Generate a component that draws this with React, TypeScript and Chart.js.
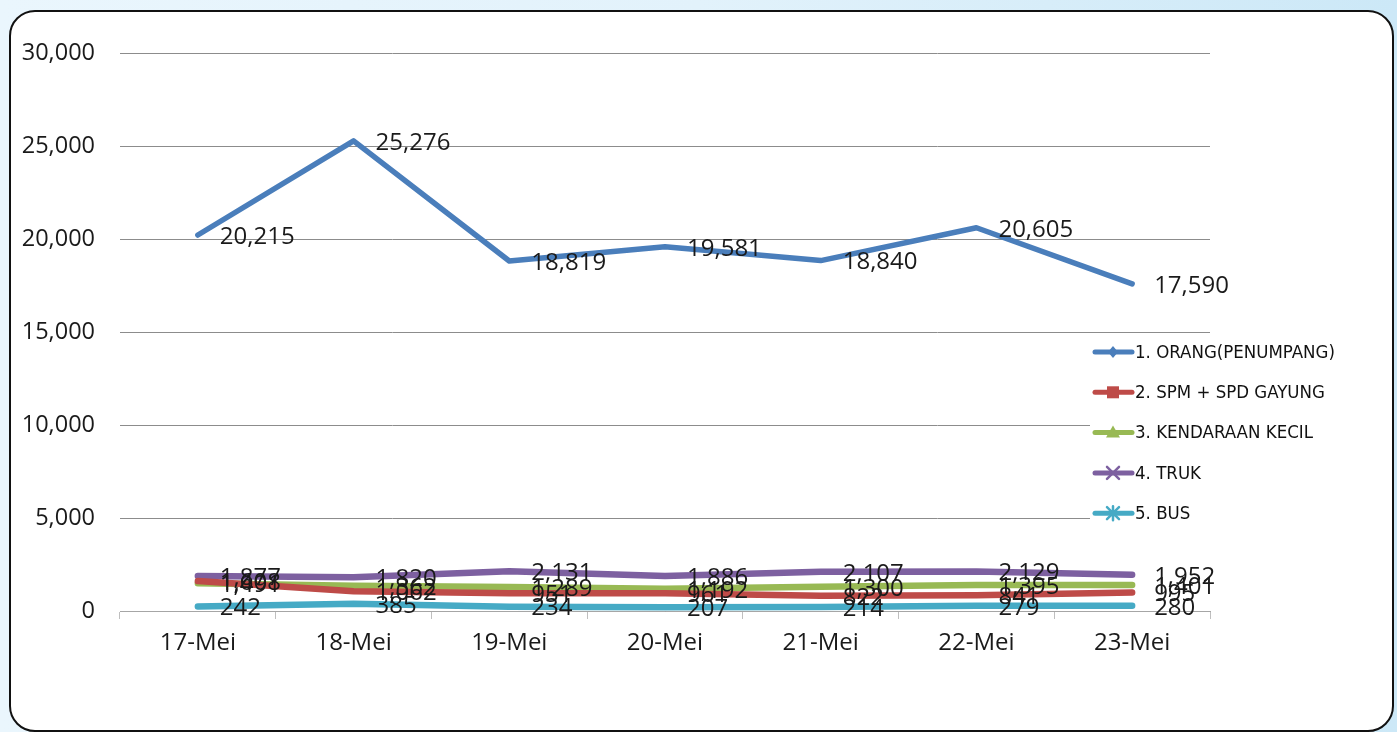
import React, { useEffect, useRef } from "react";
import { Chart, registerables } from "chart.js";

Chart.register(...registerables);

const categories = ["17-Mei", "18-Mei", "19-Mei", "20-Mei", "21-Mei", "22-Mei", "23-Mei"];
const seriesNames = [
  "1. ORANG(PENUMPANG)",
  "2. SPM + SPD GAYUNG",
  "3. KENDARAAN KECIL",
  "4. TRUK",
  "5. BUS",
];
const orang = [20215, 25276, 18819, 19581, 18840, 20605, 17590];
const spm = [1608, 1062, 951, 961, 822, 841, 995];
const kendaraan = [1491, 1362, 1289, 1192, 1300, 1395, 1401];
const truk = [1877, 1820, 2131, 1886, 2107, 2129, 1952];
const bus = [242, 385, 234, 207, 214, 279, 280];
const yTickValues = [0, 5000, 10000, 15000, 20000, 25000, 30000];

const seriesValues = [orang, spm, kendaraan, truk, bus];
const colors = ["#4a7ebb", "#be4b48", "#98b954", "#7d60a0", "#46aac5"];
const markerKinds = ["diamond", "square", "triangle", "cross", "star"];

const fmt = (v: number) => v.toLocaleString("en-US");
const FONT = "'Open Sans', 'Noto Sans', sans-serif";

function drawMarker(ctx: CanvasRenderingContext2D, kind: string, cx: number, cy: number, color: string) {
  ctx.save();
  ctx.fillStyle = color;
  ctx.strokeStyle = color;
  ctx.lineWidth = 2.5;
  if (kind === "diamond") {
    ctx.beginPath();
    ctx.moveTo(cx, cy - 6);
    ctx.lineTo(cx + 5, cy);
    ctx.lineTo(cx, cy + 6);
    ctx.lineTo(cx - 5, cy);
    ctx.closePath();
    ctx.fill();
  } else if (kind === "square") {
    ctx.fillRect(cx - 6, cy - 6, 12, 12);
  } else if (kind === "triangle") {
    ctx.beginPath();
    ctx.moveTo(cx, cy - 7);
    ctx.lineTo(cx + 7, cy + 5);
    ctx.lineTo(cx - 7, cy + 5);
    ctx.closePath();
    ctx.fill();
  } else if (kind === "cross") {
    ctx.beginPath();
    ctx.moveTo(cx - 6, cy - 6);
    ctx.lineTo(cx + 6, cy + 6);
    ctx.moveTo(cx + 6, cy - 6);
    ctx.lineTo(cx - 6, cy + 6);
    ctx.stroke();
  } else if (kind === "star") {
    ctx.beginPath();
    ctx.moveTo(cx - 6, cy - 6);
    ctx.lineTo(cx + 6, cy + 6);
    ctx.moveTo(cx + 6, cy - 6);
    ctx.lineTo(cx - 6, cy + 6);
    ctx.moveTo(cx, cy - 7);
    ctx.lineTo(cx, cy + 7);
    ctx.stroke();
  }
  ctx.restore();
}

const valueLabels = {
  id: "valueLabels",
  afterDatasetsDraw(chart: any) {
    const ctx = chart.ctx as CanvasRenderingContext2D;
    ctx.save();
    ctx.font = `24px ${FONT}`;
    ctx.fillStyle = "#1a1a1a";
    ctx.textAlign = "left";
    ctx.textBaseline = "middle";
    chart.data.datasets.forEach((ds: any, i: number) => {
      const meta = chart.getDatasetMeta(i);
      meta.data.forEach((pt: any, j: number) => {
        ctx.fillText(fmt(ds.data[j]), pt.x + 22, pt.y + 2);
      });
    });
    ctx.restore();
  },
};

const sideLegend = {
  id: "sideLegend",
  afterDraw(chart: any) {
    const ctx = chart.ctx as CanvasRenderingContext2D;
    ctx.save();
    ctx.fillStyle = "#ffffff";
    ctx.fillRect(1090, 334, 252, 198);
    ctx.font = "18.5px 'Liberation Sans Narrow', 'DejaVu Sans Condensed', 'Open Sans', sans-serif";
    ctx.textBaseline = "middle";
    ctx.textAlign = "left";
    chart.data.datasets.forEach((ds: any, i: number) => {
      const y = 352 + i * 40.3;
      ctx.strokeStyle = ds.borderColor;
      ctx.lineWidth = 5;
      ctx.lineCap = "round";
      ctx.beginPath();
      ctx.moveTo(1095, y);
      ctx.lineTo(1132, y);
      ctx.stroke();
      drawMarker(ctx, markerKinds[i], 1113, y, ds.borderColor);
      ctx.fillStyle = "#111111";
      ctx.fillText(ds.label, 1135, y + 1);
    });
    ctx.restore();
  },
};

export default function App() {
  const canvasRef = useRef<HTMLCanvasElement | null>(null);

  useEffect(() => {
    if (!canvasRef.current) return;
    const chart = new Chart(canvasRef.current, {
      type: "line",
      data: {
        labels: categories,
        datasets: seriesNames.map((name, i) => ({
          label: name,
          data: seriesValues[i],
          borderColor: colors[i],
          backgroundColor: colors[i],
          borderWidth: i === 0 ? 5.5 : 6.5,
          pointRadius: 0,
          pointHoverRadius: 0,
          tension: 0,
          borderCapStyle: "round",
          borderJoinStyle: "round",
        })),
      },
      options: {
        responsive: false,
        animation: false,
        events: [],
        layout: { padding: { top: 53, right: 187, left: 0, bottom: 0 } },
        plugins: {
          legend: { display: false },
          tooltip: { enabled: false },
        },
        scales: {
          x: {
            offset: true,
            afterFit: (s: any) => {
              s.height = 121;
            },
            grid: {
              display: true,
              offset: true,
              drawOnChartArea: false,
              drawTicks: true,
              tickLength: 8,
              color: "#bfbfbf",
              lineWidth: 1,
            },
            border: { display: true, color: "#a6a6a6", width: 1 },
            ticks: {
              font: { family: FONT, size: 24 },
              color: "#1a1a1a",
              padding: 10,
              maxRotation: 0,
            },
          },
          y: {
            min: 0,
            max: 30000,
            afterFit: (s: any) => {
              s.width = 120;
            },
            afterBuildTicks: (s: any) => {
              s.ticks = yTickValues.map((v) => ({ value: v }));
            },
            grid: {
              color: "#8c8c8c",
              lineWidth: 1,
              drawTicks: false,
            },
            border: { display: false },
            ticks: {
              font: { family: FONT, size: 23.5 },
              color: "#1a1a1a",
              padding: 25,
              callback: (v: any) => fmt(Number(v)),
            },
          },
        },
      },
      plugins: [valueLabels, sideLegend],
    } as any);
    return () => chart.destroy();
  }, []);

  return (
    <div
      style={{
        position: "fixed",
        left: 0,
        top: 0,
        width: 1397,
        height: 732,
        overflow: "hidden",
        background: "linear-gradient(to right, #eaf6fd 0%, #e2f2fb 50%, #cce8f7 100%)",
      }}
    >
      <div
        style={{
          position: "absolute",
          left: 9,
          top: 10,
          width: 1381,
          height: 718,
          background: "#ffffff",
          border: "2px solid #111",
          borderRadius: 26,
        }}
      />
      <canvas
        ref={canvasRef}
        width={1397}
        height={732}
        style={{ position: "absolute", left: 0, top: 0, width: 1397, height: 732 }}
      />
    </div>
  );
}
